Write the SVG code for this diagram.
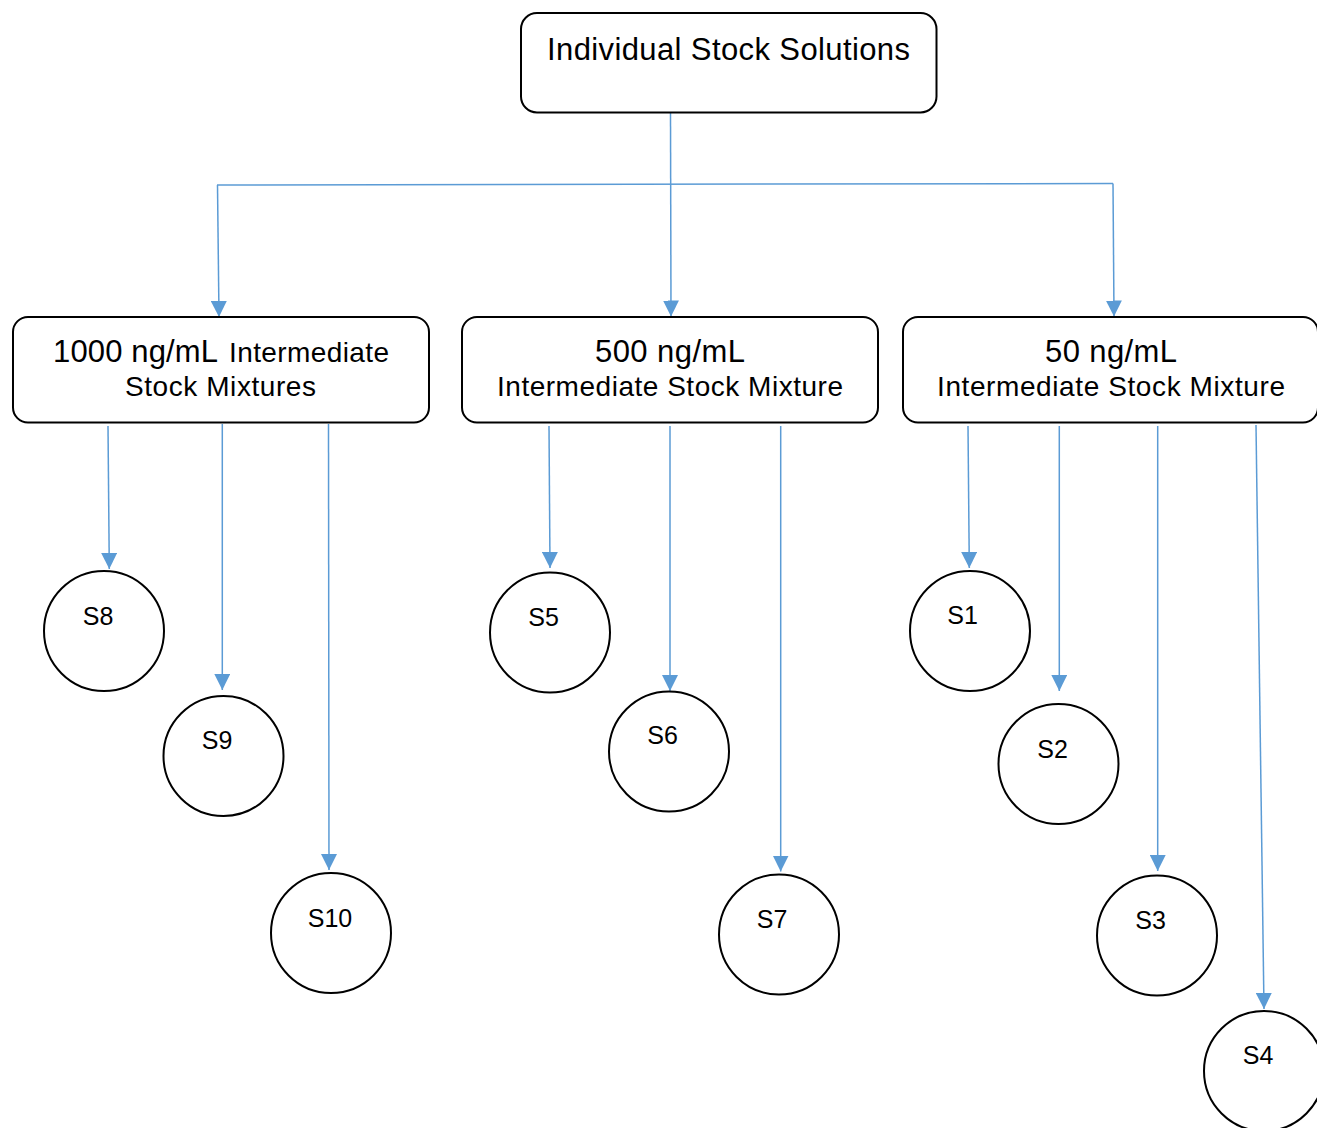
<svg xmlns="http://www.w3.org/2000/svg" width="1317" height="1128" viewBox="0 0 1317 1128">
<style>
.box{fill:#fff;stroke:#000;stroke-width:2}
.circ{fill:#fff;stroke:#000;stroke-width:2}
.big{font-family:"Liberation Sans",Arial,sans-serif;font-size:31px;fill:#000}
.sm{font-family:"Liberation Sans",Arial,sans-serif;font-size:28px;fill:#000}
.lbl{font-family:"Liberation Sans",Arial,sans-serif;font-size:25px;fill:#000;text-anchor:middle}
.con{fill:none;stroke:#5B9BD5;stroke-width:1.5}
.arr{marker-end:url(#ah)}
</style>
<defs>
<marker id="ah" markerUnits="userSpaceOnUse" markerWidth="16" markerHeight="16" refX="16" refY="8" orient="auto" viewBox="0 0 16 16">
<path d="M0,0 L16,8 L0,16 z" fill="#5B9BD5"/>
</marker>
</defs>
<rect width="1317" height="1128" fill="#fff"/>
<g id="connectors">
<line class="con" x1="670.5" y1="113" x2="671" y2="316.5" marker-end="url(#ah)"/>
<line class="con" x1="217" y1="185" x2="1113" y2="183.5"/>
<line class="con arr" x1="217.5" y1="185" x2="219" y2="317"/>
<line class="con arr" x1="1113" y1="183.5" x2="1114" y2="316.5"/>
<line class="con arr" x1="108" y1="426" x2="109.3" y2="569"/>
<line class="con arr" x1="222.3" y1="424" x2="222.3" y2="690"/>
<line class="con arr" x1="328.5" y1="424" x2="329" y2="870"/>
<line class="con arr" x1="549" y1="426" x2="550" y2="568"/>
<line class="con arr" x1="670" y1="426" x2="670" y2="691"/>
<line class="con arr" x1="780.7" y1="426" x2="780.7" y2="871.5"/>
<line class="con arr" x1="968" y1="426" x2="969.3" y2="568"/>
<line class="con arr" x1="1059.3" y1="426" x2="1059.3" y2="691"/>
<line class="con arr" x1="1157.7" y1="426" x2="1157.7" y2="871"/>
<line class="con arr" x1="1256" y1="425" x2="1264" y2="1009"/>
</g>
<g id="top">
<rect class="box" x="521" y="13" width="415.5" height="99.5" rx="16"/>
<text class="big" x="547" y="59.5" font-size="32" textLength="363">Individual Stock Solutions</text>
</g>
<g id="mix1000">
<rect class="box" x="13" y="317" width="416" height="105.5" rx="15"/>
<text y="362"><tspan class="big" x="53" textLength="165">1000 ng/mL</tspan><tspan class="sm" x="229" textLength="160">Intermediate</tspan></text>
<text class="sm" x="125" y="396" textLength="191">Stock Mixtures</text>
</g>
<g id="mix500">
<rect class="box" x="462" y="317" width="416" height="105.5" rx="15"/>
<text class="big" x="595" y="362" textLength="150">500 ng/mL</text>
<text class="sm" x="497" y="396" textLength="346">Intermediate Stock Mixture</text>
</g>
<g id="mix50">
<rect class="box" x="903" y="317" width="415" height="105.5" rx="15"/>
<text class="big" x="1045" y="362" textLength="132">50 ng/mL</text>
<text class="sm" x="937" y="396" textLength="348">Intermediate Stock Mixture</text>
</g>
<g id="S8"><circle class="circ" cx="104" cy="631" r="60"/><text class="lbl" x="98" y="625">S8</text></g>
<g id="S9"><circle class="circ" cx="223.5" cy="756" r="60"/><text class="lbl" x="217" y="749">S9</text></g>
<g id="S10"><circle class="circ" cx="331" cy="933" r="60"/><text class="lbl" x="330" y="927">S10</text></g>
<g id="S5"><circle class="circ" cx="550" cy="632.5" r="60"/><text class="lbl" x="543.5" y="626">S5</text></g>
<g id="S6"><circle class="circ" cx="669" cy="751.5" r="60"/><text class="lbl" x="662.5" y="744">S6</text></g>
<g id="S7"><circle class="circ" cx="779" cy="934.5" r="60"/><text class="lbl" x="772" y="928">S7</text></g>
<g id="S1"><circle class="circ" cx="970" cy="631" r="60"/><text class="lbl" x="962.5" y="624">S1</text></g>
<g id="S2"><circle class="circ" cx="1058.5" cy="764" r="60"/><text class="lbl" x="1052.5" y="758">S2</text></g>
<g id="S3"><circle class="circ" cx="1157" cy="935.5" r="60"/><text class="lbl" x="1150.5" y="929">S3</text></g>
<g id="S4"><circle class="circ" cx="1264" cy="1071" r="60"/><text class="lbl" x="1258" y="1064">S4</text></g>
</svg>
